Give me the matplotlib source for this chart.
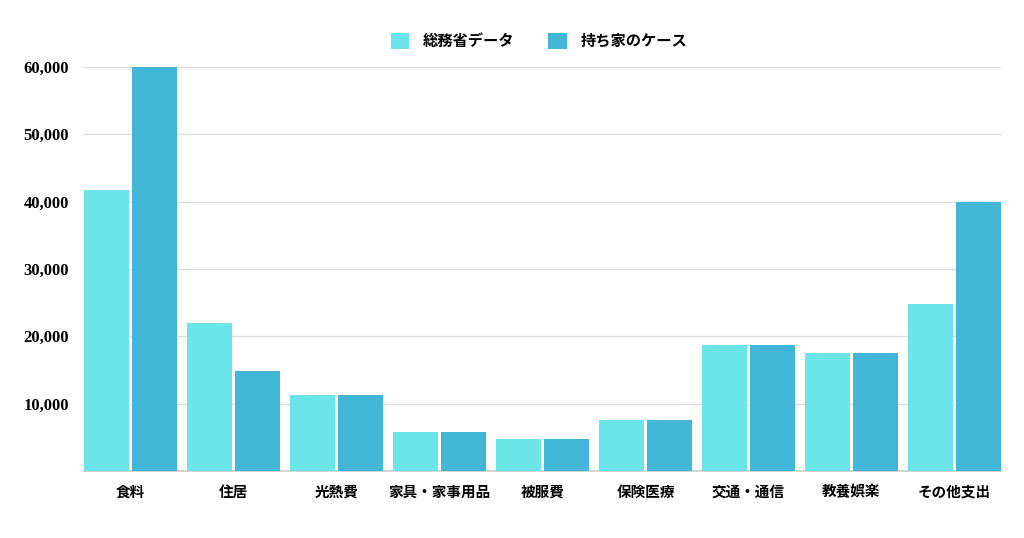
import matplotlib.pyplot as plt
import numpy as np

plt.rcParams['font.family'] = ['Noto Sans CJK JP', 'DejaVu Sans']

categories = ['食料', '住居', '光熱費', '家具・家事用品', '被服費',
              '保険医療', '交通・通信', '教養娯楽', 'その他支出']
soumu = [41700, 22000, 11300, 5800, 4750, 7600, 18700, 17500, 24800]
mochiie = [60000, 14900, 11300, 5800, 4750, 7600, 18700, 17500, 40000]
yticks = [10000, 20000, 30000, 40000, 50000, 60000]

c_light = '#6ce5e8'
c_dark = '#42b6d6'

fig = plt.figure(figsize=(10.24, 5.38), dpi=100)
ax = fig.add_axes([84 / 1024, 67 / 538, (1001 - 84) / 1024, (471 - 67) / 538])

x = np.arange(len(categories))
w = 0.436
ax.bar(x - 0.233, soumu, w, color=c_light, label='総務省データ', zorder=3)
ax.bar(x + 0.233, mochiie, w, color=c_dark, label='持ち家のケース', zorder=3)

ax.set_xlim(-0.451, len(categories) - 1 + 0.451)
ax.set_ylim(0, 60000)
ax.set_yticks(yticks)
ax.set_yticklabels([f'{v:,}' for v in yticks], family='Liberation Serif',
                   fontweight='bold', fontsize=12)
ax.set_xticks(x)
ax.set_xticklabels(categories, fontweight='bold', fontsize=10.5)
ax.tick_params(axis='both', length=0)
ax.tick_params(axis='y', pad=11)
ax.tick_params(axis='x', pad=9)

ax.grid(axis='y', color='#dddddd', linewidth=1, zorder=0)
for s in ['top', 'right', 'left']:
    ax.spines[s].set_visible(False)
ax.spines['bottom'].set_color('#cccccc')
ax.spines['bottom'].set_linewidth(1.2)

fig.legend(loc='center', bbox_to_anchor=(539 / 1024, 1 - 41 / 538), ncol=2,
           frameon=False, prop={'weight': 'bold', 'size': 11},
           handlelength=1.2, handleheight=1.2, columnspacing=2.2, handletextpad=0.9)

plt.savefig('out.png', dpi=100)
